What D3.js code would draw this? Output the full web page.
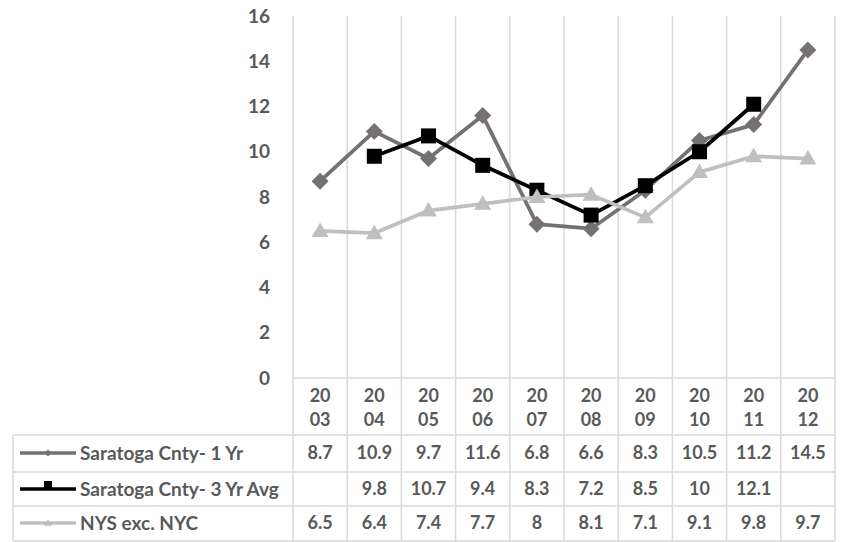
<!DOCTYPE html>
<html><head><meta charset="utf-8">
<script src="https://cdn.jsdelivr.net/npm/d3@7"></script>
<style>body{margin:0;background:#fff}svg{display:block}text{font-family:Lato,"Open Sans",sans-serif;font-weight:bold;fill:#595959}</style>
</head><body><svg id="c" width="843" height="542"></svg>
<script>
const years = ["2003","2004","2005","2006","2007","2008","2009","2010","2011","2012"];
const seriesNames = ["Saratoga Cnty- 1 Yr","Saratoga Cnty- 3 Yr Avg","NYS exc. NYC"];
const sar1 = [8.7,10.9,9.7,11.6,6.8,6.6,8.3,10.5,11.2,14.5];
const sar3 = [null,9.8,10.7,9.4,8.3,7.2,8.5,10,12.1,null];
const nys = [6.5,6.4,7.4,7.7,8,8.1,7.1,9.1,9.8,9.7];
const yTicks = [0,2,4,6,8,10,12,14,16];

const series = [
  {name:seriesNames[0], values:sar1, color:"#767171", marker:"diamond"},
  {name:seriesNames[1], values:sar3, color:"#000000", marker:"square"},
  {name:seriesNames[2], values:nys, color:"#BFBFBF", marker:"triangle"}
];

const svg = d3.select("#c");
const pLeft=293, pRight=835, pTop=16, pBottom=378;
const tableLeft=13, rowLines=[435,472,506,541];
const x = d3.scaleBand().domain(years).range([pLeft,pRight]).padding(0);
const y = d3.scaleLinear().domain([0,16]).range([pBottom,pTop]);
const grid="#D9D9D9";

// vertical gridlines (through table)
const bounds = years.map(d=>x(d)).concat([pRight]);
svg.append("g").selectAll("line").data(bounds).join("line")
  .attr("x1",d=>d).attr("x2",d=>d).attr("y1",pTop).attr("y2",rowLines[3])
  .attr("stroke",grid).attr("stroke-width",1.5);
// axis line
svg.append("line").attr("x1",pLeft).attr("x2",pRight).attr("y1",pBottom).attr("y2",pBottom).attr("stroke",grid).attr("stroke-width",1.5);
// table lines
svg.append("g").selectAll("line").data(rowLines).join("line")
  .attr("x1",tableLeft).attr("x2",pRight).attr("y1",d=>d).attr("y2",d=>d).attr("stroke",grid).attr("stroke-width",1.5);
svg.append("line").attr("x1",tableLeft).attr("x2",tableLeft).attr("y1",rowLines[0]).attr("y2",rowLines[3]).attr("stroke",grid).attr("stroke-width",1.5);

// y tick labels
svg.append("g").selectAll("text").data(yTicks).join("text")
  .attr("x",270).attr("y",d=>y(d)).attr("dy","0.35em").attr("text-anchor","end")
  .style("font-size","19px").text(d=>d);

// category labels (wrapped)
const cat = svg.append("g").selectAll("text").data(years).join("text")
  .attr("text-anchor","middle").style("font-size","18px");
cat.append("tspan").attr("x",d=>x(d)+x.bandwidth()/2).attr("y",402).text(d=>d.slice(0,2));
cat.append("tspan").attr("x",d=>x(d)+x.bandwidth()/2).attr("y",426).text(d=>d.slice(2));

function marker(sel, type, size){
  if(type==="diamond") sel.append("rect").attr("x",-size/2).attr("y",-size/2).attr("width",size).attr("height",size).attr("transform","rotate(45)");
  else if(type==="square") sel.append("rect").attr("x",-size/2).attr("y",-size/2).attr("width",size).attr("height",size);
  else sel.append("path").attr("d",`M0,${-size*0.5}L${size/2},${size*0.35}L${-size/2},${size*0.35}Z`);
}

const line = d3.line().defined(d=>d.v!=null).x(d=>x(d.year)+x.bandwidth()/2).y(d=>y(d.v));
const msize={diamond:12,square:15,triangle:17};
series.forEach(s=>{
  const pts = years.map((yr,i)=>({year:yr,v:s.values[i]}));
  const g = svg.append("g");
  g.append("path").datum(pts).attr("d",line).attr("fill","none").attr("stroke",s.color).attr("stroke-width",3.75).attr("stroke-linejoin","round");
  pts.filter(p=>p.v!=null).forEach(p=>{
    const m = g.append("g").attr("transform",`translate(${x(p.year)+x.bandwidth()/2},${y(p.v)})`).attr("fill",s.color);
    marker(m,s.marker,msize[s.marker]);
  });
});

// table rows
const rowMid = [453,489,523];
series.forEach((s,r)=>{
  const cy = rowMid[r];
  svg.append("line").attr("x1",20).attr("x2",76).attr("y1",cy).attr("y2",cy).attr("stroke",s.color).attr("stroke-width",3.5);
  const m = svg.append("g").attr("transform",`translate(48,${cy})`).attr("fill",s.color);
  if(s.marker==="diamond") marker(m,"diamond",5);
  else if(s.marker==="square") m.append("rect").attr("x",-4).attr("y",-8).attr("width",8).attr("height",8);
  else marker(m,"triangle",8);
  svg.append("text").attr("x",80).attr("y",cy).attr("dy","0.35em").style("font-size","19px").text(s.name);
  svg.append("g").selectAll("text").data(years.map((yr,i)=>({yr,v:s.values[i]})).filter(d=>d.v!=null)).join("text")
    .attr("x",d=>x(d.yr)+x.bandwidth()/2).attr("y",cy).attr("dy","0.35em").attr("text-anchor","middle")
    .style("font-size","18px").text(d=>d.v);
});
</script></body></html>
